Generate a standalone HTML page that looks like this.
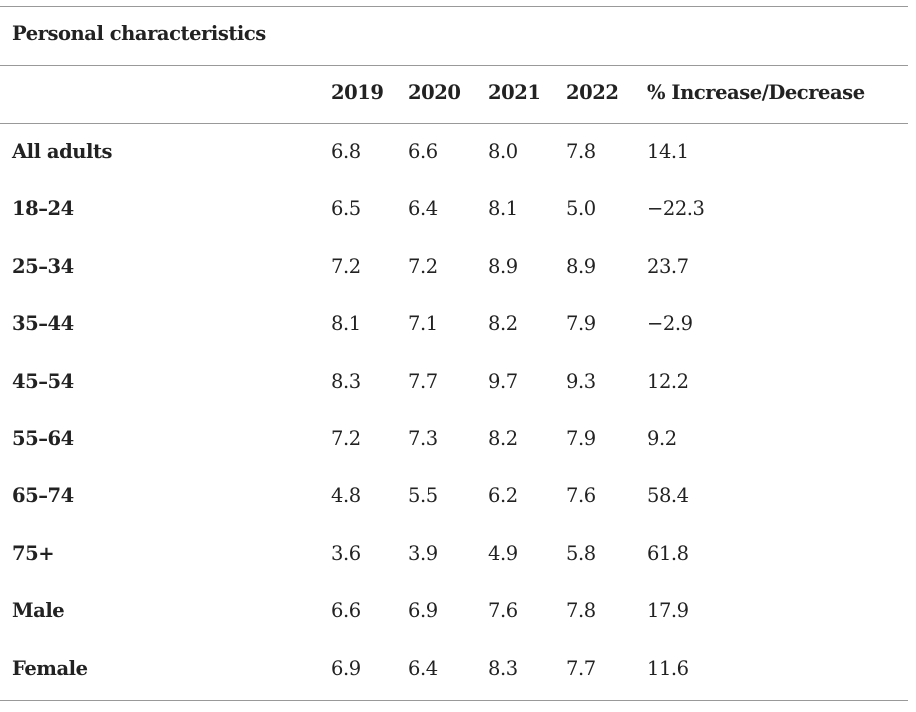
<!DOCTYPE html>
<html><head><meta charset="utf-8"><style>
html,body{margin:0;padding:0;background:#fff;}
body{width:916px;height:712px;position:relative;font-family:"DejaVu Serif",serif;color:#222;font-size:19.5px;letter-spacing:-0.45px;}
.l{position:absolute;left:0;width:908px;height:1px;background:#999;}
.t{position:absolute;white-space:nowrap;line-height:24px;}
.b{font-weight:bold;}
</style></head><body>
<div class="l" style="top:6px"></div>
<div class="l" style="top:65px"></div>
<div class="l" style="top:123px"></div>
<div class="l" style="top:700px"></div>
<div class="t b" style="left:12px;top:22px">Personal characteristics</div>
<div class="t b" style="left:331px;top:81px">2019</div>
<div class="t b" style="left:408px;top:81px">2020</div>
<div class="t b" style="left:488px;top:81px">2021</div>
<div class="t b" style="left:566px;top:81px">2022</div>
<div class="t b" style="left:647px;top:81px">% Increase/Decrease</div>
<div id="rows"></div>
<script>
var d=[["All adults","6.8","6.6","8.0","7.8","14.1"],["18–24","6.5","6.4","8.1","5.0","−22.3"],["25–34","7.2","7.2","8.9","8.9","23.7"],["35–44","8.1","7.1","8.2","7.9","−2.9"],["45–54","8.3","7.7","9.7","9.3","12.2"],["55–64","7.2","7.3","8.2","7.9","9.2"],["65–74","4.8","5.5","6.2","7.6","58.4"],["75+","3.6","3.9","4.9","5.8","61.8"],["Male","6.6","6.9","7.6","7.8","17.9"],["Female","6.9","6.4","8.3","7.7","11.6"]];
var xs=[12,331,408,488,566,647],h="";
d.forEach(function(r,i){var y=140+i*57.4;r.forEach(function(c,j){h+='<div class="t'+(j==0?' b':'')+'" style="left:'+xs[j]+'px;top:'+y+'px">'+c+'</div>';});});
document.getElementById("rows").innerHTML=h;
</script>
</body></html>
